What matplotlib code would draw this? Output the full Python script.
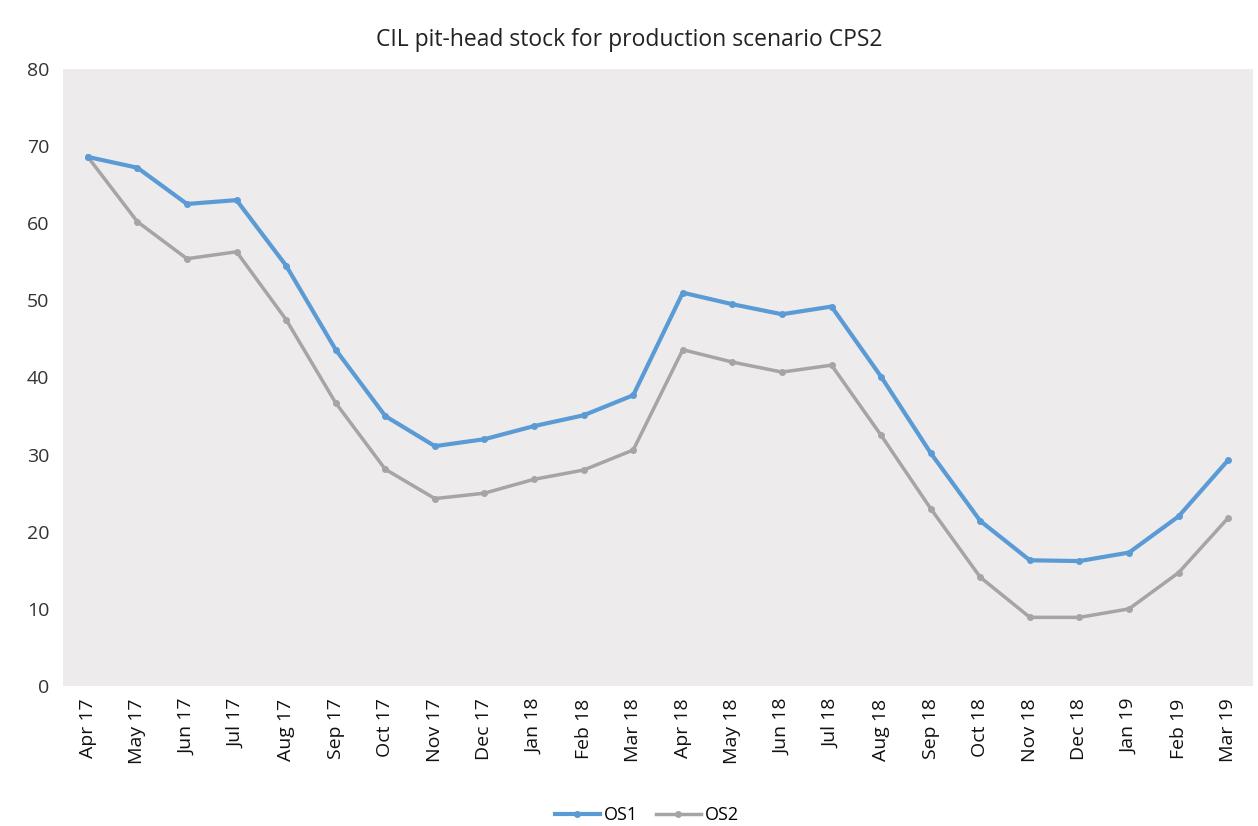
import matplotlib.pyplot as plt
import numpy as np

plt.rcParams['font.family'] = ['Open Sans', 'DejaVu Sans']

months = ["Apr 17", "May 17", "Jun 17", "Jul 17", "Aug 17", "Sep 17", "Oct 17", "Nov 17",
          "Dec 17", "Jan 18", "Feb 18", "Mar 18", "Apr 18", "May 18", "Jun 18", "Jul 18",
          "Aug 18", "Sep 18", "Oct 18", "Nov 18", "Dec 18", "Jan 19", "Feb 19", "Mar 19"]

os1 = [68.6, 67.2, 62.5, 63.0, 54.5, 43.6, 35.0, 31.1, 32.0, 33.7, 35.1, 37.7,
       51.0, 49.5, 48.2, 49.2, 40.1, 30.2, 21.4, 16.3, 16.2, 17.3, 22.0, 29.3]
os2 = [68.6, 60.2, 55.4, 56.3, 47.5, 36.7, 28.1, 24.3, 25.0, 26.8, 28.0, 30.6,
       43.6, 42.0, 40.7, 41.6, 32.5, 23.0, 14.1, 8.9, 8.9, 10.0, 14.7, 21.8]

fig = plt.figure(figsize=(12.58, 8.26), dpi=100)
ax = fig.add_axes([63 / 1258, 1 - 686 / 826, (1253 - 63) / 1258, (686 - 69) / 826])
ax.set_facecolor('#edebeb')

x = np.arange(len(months))
ax.plot(x, os2, color='#a5a5a5', lw=2.5, marker='o', ms=4, label='OS2', zorder=2)
ax.plot(x, os1, color='#5b9bd5', lw=3, marker='o', ms=4, label='OS1', zorder=3)

ax.set_xlim(-0.5, len(months) - 0.5)
ax.set_ylim(0, 80)
ax.set_yticks(range(0, 81, 10))
ax.set_xticks(x)
ax.set_xticklabels(months, rotation=90, fontsize=14, color='#111111')
ax.tick_params(axis='y', labelsize=14, colors='#333333', length=0, pad=10)
ax.tick_params(axis='x', length=0, pad=9)
for s in ax.spines.values():
    s.set_visible(False)

fig.text(0.5, 1 - 40 / 826, "CIL pit-head stock for production scenario CPS2",
         ha='center', va='center', fontsize=16.5, color='#222222')

h, l = ax.get_legend_handles_labels()
fig.legend(h[::-1], l[::-1], loc='center', bbox_to_anchor=(0.514, 1 - 815 / 826), ncol=2,
           frameon=False, fontsize=13, handlelength=2.5, columnspacing=1.0, handletextpad=0.2)

fig.savefig('out.png', dpi=100, facecolor='white')
